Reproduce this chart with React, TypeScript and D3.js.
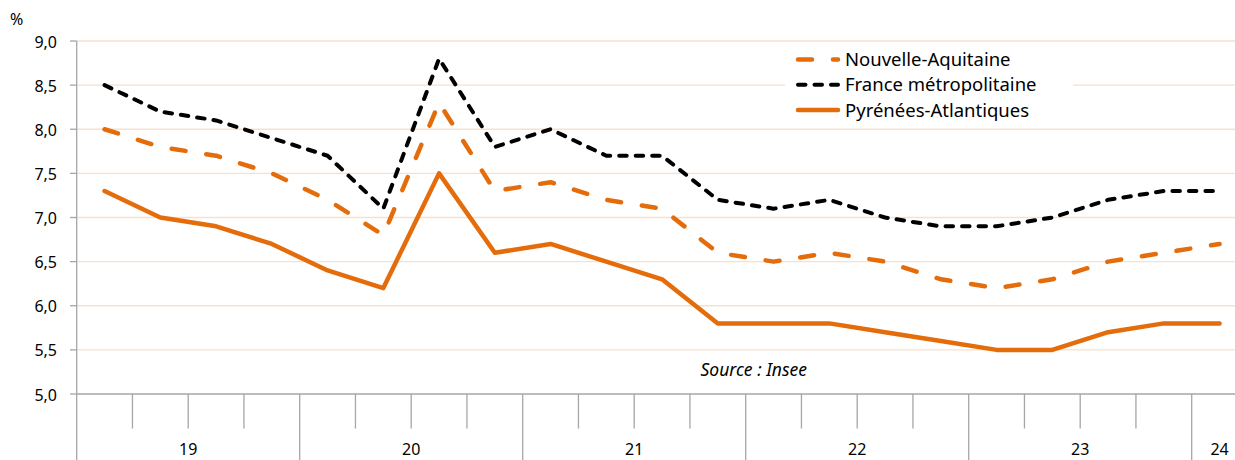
import React from "react";
import * as d3 from "d3";

// ---- Data ----
const quarters: string[] = [
  "T1 2019", "T2 2019", "T3 2019", "T4 2019",
  "T1 2020", "T2 2020", "T3 2020", "T4 2020",
  "T1 2021", "T2 2021", "T3 2021", "T4 2021",
  "T1 2022", "T2 2022", "T3 2022", "T4 2022",
  "T1 2023", "T2 2023", "T3 2023", "T4 2023",
  "T1 2024",
];
const yearLabels: string[] = ["19", "20", "21", "22", "23", "24"];
const yearStartIndex: number[] = [0, 4, 8, 12, 16, 20];
const yearQuarterCount: number[] = [4, 4, 4, 4, 4, 1];

const nouvelleAquitaine: number[] = [
  8.0, 7.8, 7.7, 7.5, 7.2, 6.8, 8.3, 7.3, 7.4, 7.2, 7.1, 6.6, 6.5, 6.6, 6.5, 6.3, 6.2, 6.3, 6.5, 6.6, 6.7,
];
const franceMetro: number[] = [
  8.5, 8.2, 8.1, 7.9, 7.7, 7.1, 8.8, 7.8, 8.0, 7.7, 7.7, 7.2, 7.1, 7.2, 7.0, 6.9, 6.9, 7.0, 7.2, 7.3, 7.3,
];
const pyreneesAtlantiques: number[] = [
  7.3, 7.0, 6.9, 6.7, 6.4, 6.2, 7.5, 6.6, 6.7, 6.5, 6.3, 5.8, 5.8, 5.8, 5.7, 5.6, 5.5, 5.5, 5.7, 5.8, 5.8,
];
const yTicks: number[] = [5.0, 5.5, 6.0, 6.5, 7.0, 7.5, 8.0, 8.5, 9.0];
const seriesNames: string[] = ["Nouvelle-Aquitaine", "France métropolitaine", "Pyrénées-Atlantiques"];

// ---- Layout ----
const W = 1235;
const H = 460;
const x0 = 76.7;
const bandW = 55.75;
const yTop = 41;
const yBottom = 394;
const ORANGE = "#E46C0A";
const GRID = "#FADFCB";
const AXIS = "#A6A6A6";
const FONT = "'Noto Sans', 'Open Sans', sans-serif";

export default function App() {
  const x = d3
    .scaleBand<string>()
    .domain(quarters)
    .range([x0, x0 + bandW * quarters.length])
    .paddingInner(0)
    .paddingOuter(0);
  const y = d3.scaleLinear().domain([5, 9]).range([yBottom, yTop]);
  const cx = (i: number) => (x(quarters[i]) as number) + x.bandwidth() / 2;

  const line = d3
    .line<number>()
    .x((_, i) => cx(i))
    .y((d) => y(d));

  const series = [
    { name: seriesNames[0], data: nouvelleAquitaine, color: ORANGE, dash: "14 21", width: 4.5 },
    { name: seriesNames[1], data: franceMetro, color: "#000000", dash: "7.5 9", width: 4 },
    { name: seriesNames[2], data: pyreneesAtlantiques, color: ORANGE, dash: "", width: 4.5 },
  ];
  const drawOrder = [2, 0, 1];

  const fmt = (v: number) => v.toFixed(1).replace(".", ",");

  return (
    <svg
      width={W}
      height={H}
      style={{ position: "absolute", left: 0, top: 0, display: "block", background: "#fff" }}
      fontFamily={FONT}
    >
      {/* gridlines */}
      {yTicks.slice(1).map((t) => (
        <line key={"g" + t} x1={x0} x2={W} y1={y(t)} y2={y(t)} stroke={GRID} strokeWidth={1.3} />
      ))}
      {/* y ticks & labels */}
      {yTicks.map((t) => (
        <g key={"yt" + t}>
          <line x1={70} x2={x0} y1={y(t)} y2={y(t)} stroke={AXIS} strokeWidth={1.3} />
          <text x={57} y={y(t) + 6.5} textAnchor="end" fontSize={16} fill="#000">
            {fmt(t)}
          </text>
        </g>
      ))}
      <text x={10} y={25} fontSize={16} fill="#000">%</text>
      {/* y axis line */}
      <line x1={x0} x2={x0} y1={yTop} y2={H} stroke={AXIS} strokeWidth={1.3} />
      {/* x axis line */}
      <line x1={x0} x2={W} y1={yBottom} y2={yBottom} stroke={AXIS} strokeWidth={1.5} />
      {/* x ticks */}
      {quarters.map((q, i) => {
        if (i === 0) return null;
        const major = yearStartIndex.includes(i);
        const xx = x(q) as number;
        return (
          <line
            key={"xt" + i}
            x1={xx}
            x2={xx}
            y1={yBottom}
            y2={major ? H : 428.5}
            stroke={AXIS}
            strokeWidth={1.3}
          />
        );
      })}
      {yearLabels.map((lab, k) => {
        const s = x(quarters[yearStartIndex[k]]) as number;
        const c = s + (x.bandwidth() * yearQuarterCount[k]) / 2;
        return (
          <text key={"yl" + k} x={c} y={455} textAnchor="middle" fontSize={16} fill="#000">
            {lab}
          </text>
        );
      })}
      {/* series */}
      {drawOrder.map((si) => {
        const s = series[si];
        return (
          <path
            key={s.name}
            d={line(s.data) || ""}
            fill="none"
            stroke={s.color}
            strokeWidth={s.width}
            strokeDasharray={s.dash || undefined}
            strokeLinecap="round"
            strokeLinejoin="round"
          />
        );
      })}
      {/* legend */}
      <rect x={785} y={45} width={288} height={81} fill="#fff" />
      {series.map((s, k) => {
        const ly = 59.5 + k * 25.3;
        return (
          <g key={"lg" + k}>
            <line
              x1={798}
              x2={838}
              y1={ly}
              y2={ly}
              stroke={s.color}
              strokeWidth={s.width}
              strokeDasharray={s.dash || undefined}
              strokeLinecap="round"
            />
            <text x={845} y={ly + 6.5} fontSize={18.5} fill="#000">
              {s.name}
            </text>
          </g>
        );
      })}
      {/* source */}
      <text x={700.5} y={375.5} fontSize={17.5} fontStyle="italic" fill="#000">
        Source : Insee
      </text>
    </svg>
  );
}
